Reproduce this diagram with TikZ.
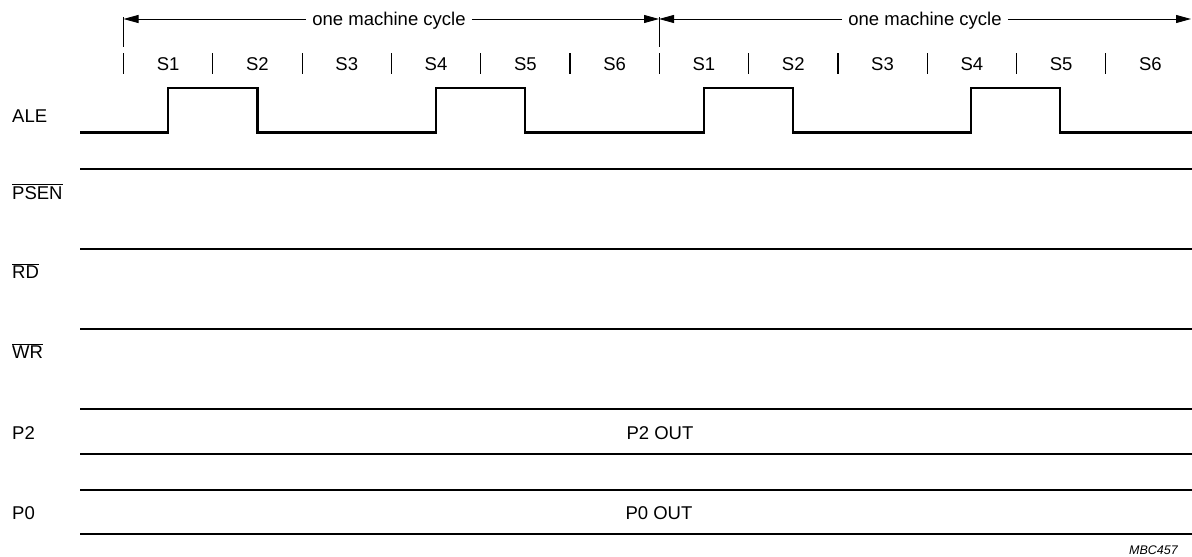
\documentclass[tikz,border=0pt]{standalone}
\usepackage{fontspec}
\setmainfont{Liberation Sans}
\usetikzlibrary{arrows.meta}
\begin{document}
\begin{tikzpicture}[x=1pt,y=-1pt,
  sig/.style={line width=2.2pt},
  dim/.style={line width=0.9pt},
  tick/.style={line width=1.2pt},
  tipped/.style={dim,-{Triangle[length=15pt,width=8pt]}},
  txt/.style={font=\fontsize{18.5}{20}\selectfont,inner sep=0pt,anchor=base},
  lbl/.style={font=\fontsize{18.5}{20}\selectfont,inner sep=0pt,anchor=base west},
  cyc/.style={font=\fontsize{18.5}{20}\selectfont,inner xsep=6pt,inner ysep=0pt,anchor=base}]
\useasboundingbox (0,0) rectangle (1192,557);
\def\xo{123.5}\def\pp{89.3}
% cycle boundaries
\coordinate (a0) at (\xo,19);
\coordinate (a1) at (659,19);
\coordinate (a2) at (1191,19);
\coordinate (v0t) at (\xo,17); \coordinate (v0b) at (\xo,47);
\coordinate (v1t) at (659,17); \coordinate (v1b) at (659,47);
\draw[dim] (v0t) -- (v0b);
\draw[dim] (v1t) -- (v1b);
\node[cyc] (c1) at (389,25.5) {one machine cycle};
\node[cyc] (c2) at (925,25.5) {one machine cycle};
\draw[tipped] (c1.west |- a0) -- (a0);
\draw[tipped] (c1.east |- a0) -- (a1);
\draw[tipped] (c2.west |- a0) -- (a1);
\draw[tipped] (c2.east |- a0) -- (a2);
% state ticks and labels
\foreach \k in {0,...,11}{
  \coordinate (t\k a) at ({\xo+\k*\pp},53);
  \coordinate (t\k b) at ({\xo+\k*\pp},74);
  \draw[tick] (t\k a) -- (t\k b);
}
\foreach \k/\s in {0/S1,1/S2,2/S3,3/S4,4/S5,5/S6,6/S1,7/S2,8/S3,9/S4,10/S5,11/S6}{
  \node[txt] (s\k) at ({\xo+(\k+0.5)*\pp},70.5) {\s};
}
% signal labels
\node[lbl] (lale) at (12,122.5) {ALE};
\node[lbl] (lpsen) at (12,199) {$\overline{\mbox{PSEN}}$};
\node[lbl] (lrd) at (12,278) {$\overline{\mbox{RD}}$};
\node[lbl] (lwr) at (12,358.5) {$\overline{\mbox{WR}}$};
\node[lbl] (lp2) at (12,439.3) {P2};
\node[lbl] (lp0) at (12,519.3) {P0};
% ALE waveform
\draw[sig] (80,132.5) -- (168.2,132.5) -- (168.2,88.3) -- (257.5,88.3) -- (257.5,132.5)
  -- (435.7,132.5) -- (435.7,88.3) -- (525,88.3) -- (525,132.5)
  -- (704,132.5) -- (704,88.3) -- (793.3,88.3) -- (793.3,132.5)
  -- (971,132.5) -- (971,88.3) -- (1060.3,88.3) -- (1060.3,132.5) -- (1192,132.5);
% static lines
\draw[sig] (80,169) -- (1192,169);
\draw[sig] (80,249) -- (1192,249);
\draw[sig] (80,329.3) -- (1192,329.3);
\draw[sig] (80,409.3) -- (1192,409.3);
\draw[sig] (80,453.7) -- (1192,453.7);
\draw[sig] (80,489.7) -- (1192,489.7);
\draw[sig] (80,534.3) -- (1192,534.3);
\node[txt] (p2out) at (660,439.3) {P2 OUT};
\node[txt] (p0out) at (659,519.3) {P0 OUT};
\node[font=\fontsize{12.5}{14}\selectfont\itshape,inner sep=0pt,anchor=base east] (mbc) at (1178,554) {MBC457};
\end{tikzpicture}
\end{document}
